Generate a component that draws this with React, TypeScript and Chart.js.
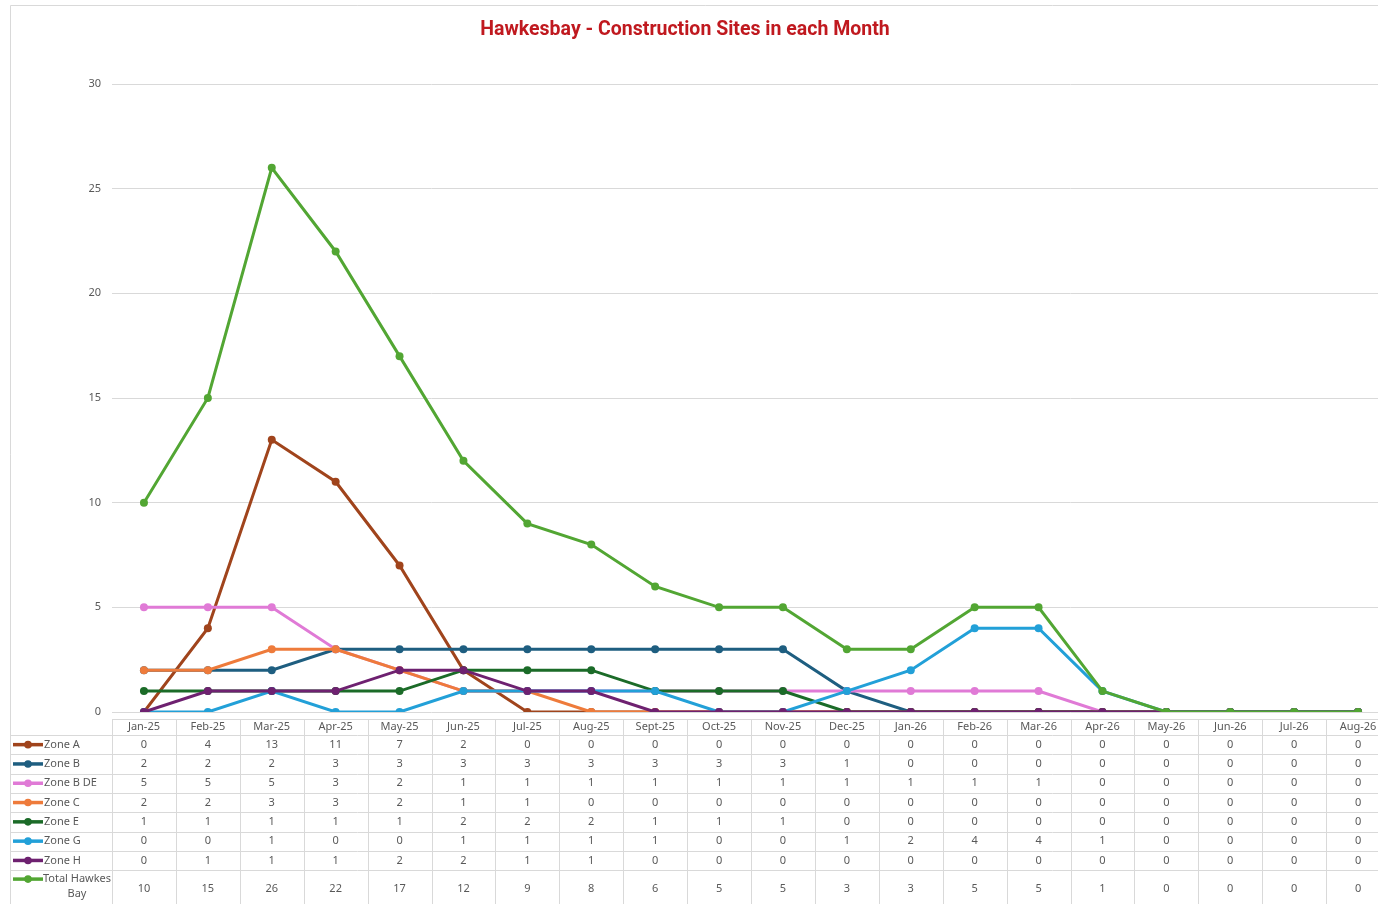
import React, { useEffect, useRef } from "react";
import { Chart, registerables } from "chart.js";

Chart.register(...registerables);

const categories = ["Jan-25","Feb-25","Mar-25","Apr-25","May-25","Jun-25","Jul-25","Aug-25","Sept-25","Oct-25","Nov-25","Dec-25","Jan-26","Feb-26","Mar-26","Apr-26","May-26","Jun-26","Jul-26","Aug-26"];

const seriesNames = ["Zone A","Zone B","Zone B DE","Zone C","Zone E","Zone G","Zone H","Total Hawkes Bay"];

const zoneA = [0,4,13,11,7,2,0,0,0,0,0,0,0,0,0,0,0,0,0,0];
const zoneB = [2,2,2,3,3,3,3,3,3,3,3,1,0,0,0,0,0,0,0,0];
const zoneBDE = [5,5,5,3,2,1,1,1,1,1,1,1,1,1,1,0,0,0,0,0];
const zoneC = [2,2,3,3,2,1,1,0,0,0,0,0,0,0,0,0,0,0,0,0];
const zoneE = [1,1,1,1,1,2,2,2,1,1,1,0,0,0,0,0,0,0,0,0];
const zoneG = [0,0,1,0,0,1,1,1,1,0,0,1,2,4,4,1,0,0,0,0];
const zoneH = [0,1,1,1,2,2,1,1,0,0,0,0,0,0,0,0,0,0,0,0];
const totalHawkesBay = [10,15,26,22,17,12,9,8,6,5,5,3,3,5,5,1,0,0,0,0];

const yTicks = [0, 5, 10, 15, 20, 25, 30];

const seriesValues = [zoneA, zoneB, zoneBDE, zoneC, zoneE, zoneG, zoneH, totalHawkesBay];
const seriesColors = ["#A0441C","#1E5E80","#E07AD6","#EE7B3B","#1B6B28","#22A0D8","#6E2170","#52A633"];

const TITLE = "Hawkesbay - Construction Sites in each Month";
const FONT = "'Noto Sans', 'Open Sans', sans-serif";
const GRID = "#D9D9D9";
const TEXT = "#595959";

const tablePlugin = {
  id: "dataTable",
  afterDraw(chart: any) {
    const ctx = chart.ctx;
    const area = chart.chartArea;
    const xs = chart.scales.x;
    const n = categories.length;
    const bw = xs.getPixelForValue(1) - xs.getPixelForValue(0);
    const frameLeft = 10;
    const right = chart.width;
    ctx.save();

    // frame
    ctx.strokeStyle = GRID;
    ctx.lineWidth = 1;
    ctx.beginPath();
    ctx.moveTo(frameLeft + 0.5, chart.height);
    ctx.lineTo(frameLeft + 0.5, 5.5);
    ctx.lineTo(right, 5.5);
    ctx.stroke();

    // title
    ctx.fillStyle = "#C0191F";
    ctx.font = "bold 19.5px 'Roboto', sans-serif";
    ctx.textAlign = "center";
    ctx.textBaseline = "middle";
    ctx.fillText(TITLE, 685, 30);

    // table geometry
    const headTop = area.bottom + 7;
    const headBottom = headTop + 16;
    const rowH = 19.3;
    const rowTops: number[] = [];
    for (let i = 0; i <= seriesNames.length - 1; i++) rowTops.push(headBottom + i * rowH);
    const lastTop = rowTops[rowTops.length - 1];
    const lastBottom = lastTop + 38;

    ctx.strokeStyle = GRID;
    ctx.lineWidth = 1;
    ctx.beginPath();
    ctx.moveTo(area.left, Math.round(headTop) + 0.5);
    ctx.lineTo(right, Math.round(headTop) + 0.5);
    rowTops.forEach((t) => {
      ctx.moveTo(frameLeft, Math.round(t) + 0.5);
      ctx.lineTo(right, Math.round(t) + 0.5);
    });
    ctx.moveTo(frameLeft, Math.round(lastBottom) + 0.5);
    ctx.lineTo(right, Math.round(lastBottom) + 0.5);
    for (let i = 0; i <= n; i++) {
      const bx = Math.round(xs.getPixelForValue(0) - bw / 2 + i * bw) + 0.5;
      ctx.moveTo(bx, headTop);
      ctx.lineTo(bx, lastBottom);
    }
    ctx.stroke();

    // header labels
    ctx.fillStyle = TEXT;
    ctx.font = `11px ${FONT}`;
    ctx.textAlign = "center";
    ctx.textBaseline = "middle";
    categories.forEach((c, i) => {
      ctx.fillText(c, xs.getPixelForValue(i), (headTop + headBottom) / 2);
    });

    // rows
    seriesNames.forEach((name, r) => {
      const top = rowTops[r];
      const bottom = r === seriesNames.length - 1 ? lastBottom : top + rowH;
      const cy = (top + bottom) / 2;
      const my = r === seriesNames.length - 1 ? top + 9 : cy;
      // marker
      ctx.strokeStyle = seriesColors[r];
      ctx.lineWidth = 3.5;
      ctx.beginPath();
      ctx.moveTo(13, my);
      ctx.lineTo(43, my);
      ctx.stroke();
      ctx.fillStyle = seriesColors[r];
      ctx.beginPath();
      ctx.arc(28, my, 3.8, 0, Math.PI * 2);
      ctx.fill();
      // name
      ctx.fillStyle = TEXT;
      ctx.font = `11px ${FONT}`;
      ctx.textBaseline = "middle";
      if (ctx.measureText(name).width > 68) {
        const words = name.split(" ");
        const l1 = words.slice(0, words.length - 1).join(" ");
        const l2 = words[words.length - 1];
        ctx.textAlign = "center";
        ctx.fillText(l1, 77, top + 9);
        ctx.fillText(l2, 77, top + 24);
      } else {
        ctx.textAlign = "left";
        ctx.fillText(name, 44, cy);
      }
      ctx.textAlign = "center";
      seriesValues[r].forEach((v, i) => {
        ctx.fillText(String(v), xs.getPixelForValue(i), cy);
      });
    });
    ctx.restore();
  },
};

export default function App() {
  const ref = useRef<HTMLCanvasElement | null>(null);
  useEffect(() => {
    if (!ref.current) return;
    const last = seriesNames.length - 1;
    const chart = new Chart(ref.current, {
      type: "line",
      data: {
        labels: categories,
        datasets: seriesNames.map((name, i) => ({
          label: name,
          data: seriesValues[i],
          borderColor: seriesColors[i],
          backgroundColor: seriesColors[i],
          borderWidth: 3,
          pointRadius: 4,
          pointBorderWidth: 0,
          pointHoverRadius: 4,
          tension: 0,
          order: last - i,
        })),
      },
      options: {
        animation: false,
        responsive: true,
        maintainAspectRatio: false,
        layout: { padding: { left: 0, right: 10, top: 84, bottom: 192 } },
        plugins: {
          legend: { display: false },
          title: { display: false },
          tooltip: { enabled: false },
        },
        scales: {
          x: { type: "category", display: false, offset: true },
          y: {
            min: 0,
            max: 30,
            afterBuildTicks: (scale: any) => {
              scale.ticks = yTicks.map((v) => ({ value: v }));
            },
            afterFit: (scale: any) => {
              scale.width = 112;
            },
            border: { display: false },
            grid: { color: GRID, lineWidth: 1, drawTicks: false },
            ticks: {
              color: TEXT,
              font: { size: 11, family: FONT },
              padding: 11,
            },
          },
        },
      },
      plugins: [tablePlugin],
    });
    return () => chart.destroy();
  }, []);
  return (
    <div style={{ position: "fixed", left: 0, top: 0, width: 1378, height: 904, overflow: "hidden", background: "#fff" }}>
      <div style={{ position: "relative", width: 1400, height: 904 }}>
        <canvas ref={ref} />
      </div>
    </div>
  );
}
